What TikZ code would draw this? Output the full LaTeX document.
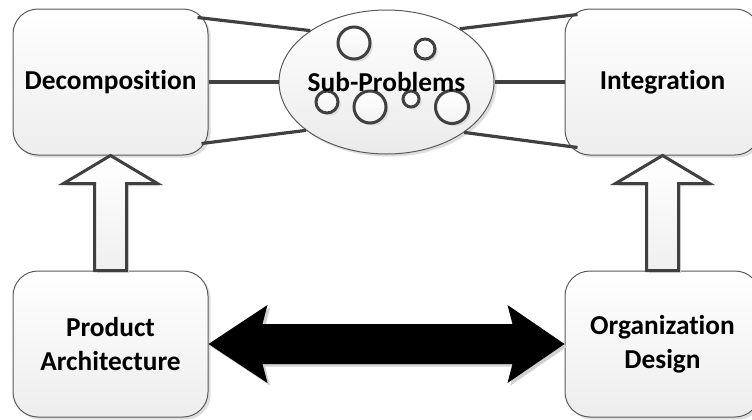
\documentclass[tikz,border=0pt]{standalone}
\usepackage{fontspec}
\setmainfont{Carlito}[Ligatures={NoCommon,NoContextual}]
\usetikzlibrary{calc,shapes.geometric,shadows}
\definecolor{dgray}{HTML}{404040}
\definecolor{bgray}{HTML}{5A5A5A}

\begin{document}
\begin{tikzpicture}[x=0.75pt,y=-0.75pt,
  font=\fontsize{20.5}{25.5}\selectfont\bfseries,
  sh/.style={drop shadow={shadow xshift=2pt,shadow yshift=-2pt,fill=black!13,opacity=1}},
  blk/.style={sh,draw=bgray,line width=0.75pt,top color=white,bottom color=black!7,
              rounded corners=18.75pt,minimum width=146.25pt,minimum height=109.5pt,
              align=center,inner sep=0pt},
  sub/.style={ellipse,sh,draw=bgray,line width=0.75pt,top color=white,bottom color=black!8,
              minimum width=161.25pt,minimum height=108pt,inner sep=0pt},
  bub/.style={sh,draw=dgray,line width=2.25pt,top color=white,bottom color=black!5},
  link/.style={draw=dgray,line width=2.4pt},
  hollow/.style={sh,draw=dgray,line width=2.25pt,top color=white,bottom color=black!6,line join=miter},
  dbl/.style={fill=black,drop shadow={shadow xshift=2pt,shadow yshift=-2pt,fill=black!18,opacity=1}}]
\clip (0,0) rectangle (752,419);

\node[blk] (dec) at (110.5,82)  {Decomposition};
\node[blk] (int) at (662.5,82)  {Integration};
\node[blk] (pa)  at (110.5,344) {Product\\Architecture};
\node[blk] (od)  at (662.5,344) {Organization\\Design};

\node[sub] (sub) at (386.5,82) {};
\foreach \cx/\cy/\r in {354/43/16,425/49/10,327/102/11,370/107/16,411/99/8,452/107/16.5}
  \draw[bub] (\cx,\cy) circle (\r);
\node (subtxt) at (sub.center) {Sub-Problems};

\draw[link] ($(dec.north east)+(-11,9)$) -- (sub.146);
\draw[link] (dec.east) -- (sub.west);
\draw[link] ($(dec.south east)+(-7,-12)$) -- (sub.211);
\draw[link] (sub.36) -- ($(int.north west)+(13,6)$);
\draw[link] (sub.east) -- (int.west);
\draw[link] (sub.327) -- ($(int.south west)+(13,-8)$);

% block arrows up
\draw[hollow] ($(pa.north)+(-16,0)$) |- ($(dec.south)+(-47,28)$) -- (dec.south)
  -- ($(dec.south)+(47,28)$) -| ($(pa.north)+(16,0)$) -- cycle;
\draw[hollow] ($(od.north)+(-16,0)$) |- ($(int.south)+(-47,28)$) -- (int.south)
  -- ($(int.south)+(47,28)$) -| ($(od.north)+(16,0)$) -- cycle;

\fill[dbl] (pa.east) -- ($(pa.east)+(59,-39)$) -- ($(pa.east)+(54,-20)$)
  -- ($(od.west)+(-52,-20)$) -- ($(od.west)+(-57,-39)$) -- (od.west)
  -- ($(od.west)+(-57,39)$) -- ($(od.west)+(-52,20)$)
  -- ($(pa.east)+(54,20)$) -- ($(pa.east)+(59,39)$) -- cycle;
\end{tikzpicture}
\end{document}
